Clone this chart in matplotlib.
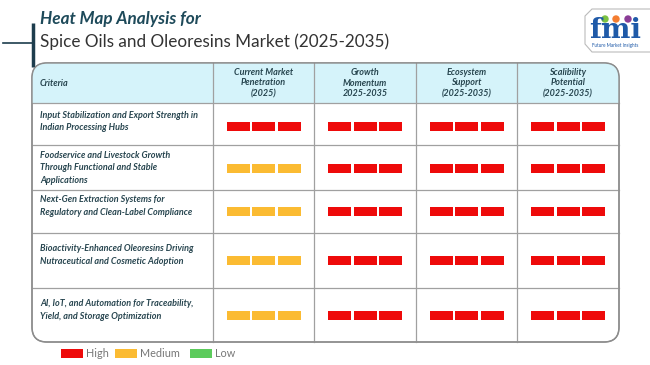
import matplotlib.pyplot as plt
from matplotlib.patches import FancyBboxPatch, Rectangle, Circle

plt.rcParams['font.family'] = ['Lato', 'DejaVu Sans']

# data
criteria = [
    "Input Stabilization and Export Strength in\nIndian Processing Hubs",
    "Foodservice and Livestock Growth\nThrough Functional and Stable\nApplications",
    "Next-Gen Extraction Systems for\nRegulatory and Clean-Label Compliance",
    "Bioactivity-Enhanced Oleoresins Driving\nNutraceutical and Cosmetic Adoption",
    "AI, IoT, and Automation for Traceability,\nYield, and Storage Optimization",
]
columns = [
    "Current Market\nPenetration\n(2025)",
    "Growth\nMomentum\n2025-2035",
    "Ecosystem\nSupport\n(2025-2035)",
    "Scalibility\nPotential\n(2025-2035)",
]
levels = [
    ["High", "High", "High", "High"],
    ["Medium", "High", "High", "High"],
    ["Medium", "High", "High", "High"],
    ["Medium", "High", "High", "High"],
    ["Medium", "High", "High", "High"],
]
legend_labels = ["High", "Medium", "Low"]

colors = {"High": "#ee0a0a", "Medium": "#fbbb32", "Low": "#5ccb5c"}
text_col = "#27454f"

fig = plt.figure(figsize=(6.5, 3.65), dpi=100)
ax = fig.add_axes([0, 0, 1, 1])
ax.set_xlim(0, 650)
ax.set_ylim(365, 0)
ax.axis('off')

# title block
ax.plot([3, 32], [43, 43], color="#1d3d4d", lw=1.2)
ax.plot([33, 33], [23, 67], color="#1d3d4d", lw=2.5, solid_capstyle='butt')
ax.text(40, 19, "Heat Map Analysis for", fontsize=12.3, fontweight='bold',
        style='italic', color="#1e4a5a", va='center')
ax.text(40, 42, "Spice Oils and Oleoresins Market (2025-2035)", fontsize=12.3,
        color="#333333", va='center')

# logo
ax.plot([650, 592, 585, 585, 592, 650], [9, 9, 16, 44, 52, 52], color="#bbbbbb", lw=0.8)
ax.text(615, 31, "fmi", fontsize=20, fontweight='bold', family='DejaVu Serif',
        color="#1f5aa8", ha='center', va='center')
for cx, c in zip([605, 616, 628], ["#7cc242", "#f47d30", "#8a3c96"]):
    ax.add_patch(Circle((cx, 19), 3, color=c))
ax.text(615, 46, "Future Market Insights", fontsize=3.3, color="#1f5aa8",
        ha='center', va='center')

# table geometry
x_edges = [32, 213, 314, 416, 517, 619]
y_edges = [63, 103, 145, 190, 233, 288, 342]

border = FancyBboxPatch((x_edges[0], y_edges[0]), x_edges[-1] - x_edges[0],
                        y_edges[-1] - y_edges[0],
                        boxstyle="round,pad=0,rounding_size=15",
                        fc='white', ec="#8c8c8c", lw=1.0, zorder=1)
ax.add_patch(border)
head = Rectangle((x_edges[0], y_edges[0]), x_edges[-1] - x_edges[0],
                 y_edges[1] - y_edges[0], fc="#d5f3fa", ec='none', zorder=2)
ax.add_patch(head)
head.set_clip_path(border)
ax.add_patch(FancyBboxPatch((x_edges[0], y_edges[0]), x_edges[-1] - x_edges[0],
                            y_edges[-1] - y_edges[0],
                            boxstyle="round,pad=0,rounding_size=15",
                            fc='none', ec="#8c8c8c", lw=1.0, zorder=4))

for y in y_edges[1:-1]:
    ax.plot([x_edges[0], x_edges[-1]], [y, y], color="#a0a0a0", lw=0.9, zorder=3)
for x in x_edges[1:-1]:
    ax.plot([x, x], [y_edges[0], y_edges[-1]], color="#a0a0a0", lw=0.9, zorder=3)

# header
ax.text(40, 83, "Criteria", fontsize=6.5, fontweight='bold', style='italic',
        color=text_col, va='center', zorder=5)
for j, lab in enumerate(columns):
    cx = (x_edges[j + 1] + x_edges[j + 2]) / 2
    ax.text(cx, 83, lab, fontsize=6.5, fontweight='bold', style='italic',
            color=text_col, ha='center', va='center', linespacing=1.25, zorder=5)

# rows
bar_y = [126.5, 168, 211, 260, 315]
bar_w, bar_h, gap = 23, 9, 2.5
for i, (crit, row) in enumerate(zip(criteria, levels)):
    ty = bar_y[i] - 5 if i != 1 else bar_y[i]
    ax.text(40, ty, crit, fontsize=6.5, fontweight='bold', style='italic',
            color=text_col, va='center', linespacing=1.45, zorder=5)
    for j, lev in enumerate(row):
        cx = (x_edges[j + 1] + x_edges[j + 2]) / 2
        for k in (-1, 0, 1):
            x0 = cx + k * (bar_w + gap) - bar_w / 2
            ax.add_patch(Rectangle((x0, bar_y[i] - bar_h / 2), bar_w, bar_h,
                                   fc=colors[lev], ec='none', zorder=5))

# legend
lx = [61, 115, 190]
for x0, lab in zip(lx, legend_labels):
    ax.add_patch(Rectangle((x0, 349), 22, 9, fc=colors[lab], ec='none'))
    ax.text(x0 + 25, 353.5, lab, fontsize=7.8, color="#777777", va='center')

fig.savefig("out.png", dpi=100)
